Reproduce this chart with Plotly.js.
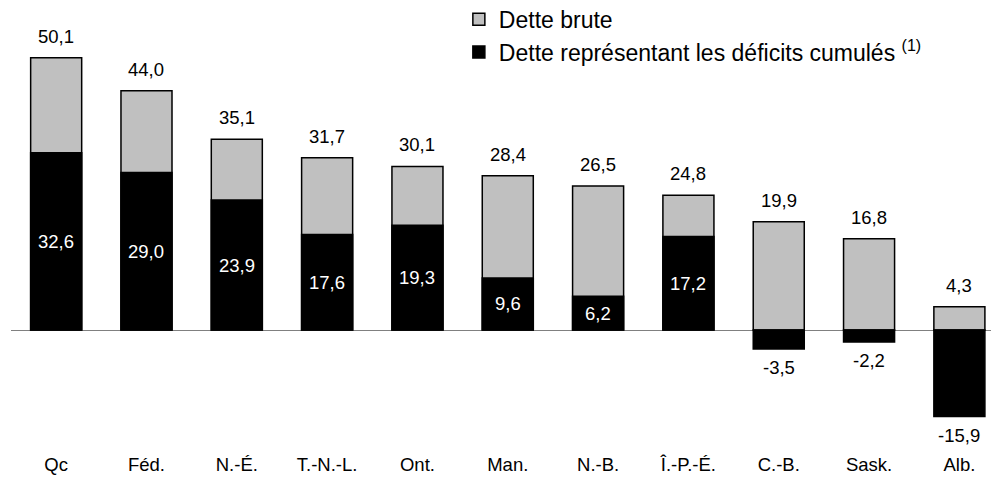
<!DOCTYPE html>
<html><head><meta charset="utf-8">
<script src="https://cdn.plot.ly/plotly-3.0.1.min.js"></script>
<style>html,body{margin:0;padding:0;background:#fff}</style>
</head><body>
<div id="chart" style="width:1002px;height:479px"></div>
<script>
const categories = ["Qc","Féd.","N.-É.","T.-N.-L.","Ont.","Man.","N.-B.","Î.-P.-É.","C.-B.","Sask.","Alb."];
const detteBrute = [50.1,44.0,35.1,31.7,30.1,28.4,26.5,24.8,19.9,16.8,4.3];
const deficitsCumules = [32.6,29.0,23.9,17.6,19.3,9.6,6.2,17.2,-3.5,-2.2,-15.9];
const seriesNames = ["Dette brute","Dette représentant les déficits cumulés <sup style=\"font-size:60%\">(1)</sup>"];

const fmt = v => v.toFixed(1).replace('.', ',');
const FONT = "Liberation Sans, Arial, sans-serif";

const traces = [
  {type:'bar', x:categories, y:detteBrute, name:seriesNames[0], width:0.565,
   marker:{color:'#C0C0C0', line:{color:'#000', width:1.5}}, legendgroup:'a', hoverinfo:'skip'},
  {type:'bar', x:categories, y:deficitsCumules, name:seriesNames[1], width:0.565,
   marker:{color:'#000', line:{color:'#000', width:1.5}}, legendgroup:'b', hoverinfo:'skip'}
];

const annotations = [];
categories.forEach((c,i)=>{
  annotations.push({x:c, y:detteBrute[i], text:fmt(detteBrute[i]), showarrow:false,
    yanchor:'bottom', yshift:9, font:{family:FONT, size:18.5, color:'#000'}});
  const d = deficitsCumules[i];
  if (d >= 0) {
    annotations.push({x:c, y:d/2, text:fmt(d), showarrow:false, yanchor:'middle',
      font:{family:FONT, size:18.5, color:'#fff'}});
  } else {
    annotations.push({x:c, y:d, text:fmt(d), showarrow:false, yanchor:'top', yshift:-6,
      font:{family:FONT, size:18.5, color:'#000'}});
  }
});

const layout = {
  width:1002, height:479,
  margin:{l:11, r:11, t:31, b:32, pad:0, autoexpand:false},
  paper_bgcolor:'#fff', plot_bgcolor:'#fff',
  barmode:'overlay',
  showlegend:true,
  legend:{x:0.457, y:1.08, xanchor:'left', yanchor:'top', bgcolor:'rgba(0,0,0,0)',
    font:{family:FONT, size:23, color:'#000'}, traceorder:'grouped', tracegroupgap:0,
    itemwidth:30},
  font:{family:FONT, color:'#000'},
  xaxis:{type:'category', range:[-0.5,10.35], showgrid:false, showline:false, zeroline:false,
    ticks:'', ticklabelstandoff:4, tickfont:{family:FONT, size:18.5, color:'#000'}, fixedrange:true},
  yaxis:{range:[-21.5,55], showgrid:false, showticklabels:false, ticks:'', showline:false,
    zeroline:true, zerolinecolor:'#808080', zerolinewidth:1, fixedrange:true},
  annotations:annotations
};

Plotly.newPlot('chart', traces, layout, {displayModeBar:false, staticPlot:true});
</script>
</body></html>
